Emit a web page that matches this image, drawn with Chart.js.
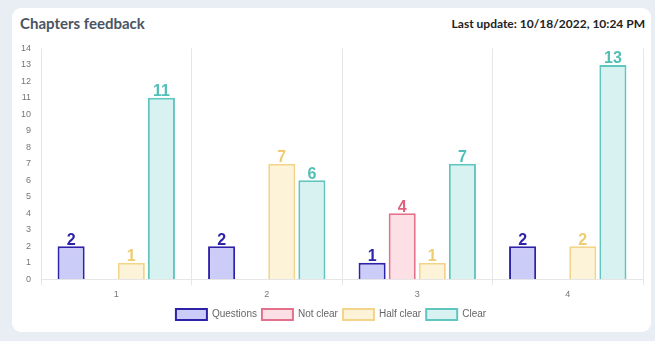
<!DOCTYPE html>
<html>
<head>
<meta charset="utf-8">
<script src="https://cdn.jsdelivr.net/npm/chart.js@4.4.0/dist/chart.umd.min.js"></script>
<style>
  html, body { margin: 0; padding: 0; width: 655px; height: 341px; background: #e9eef4; overflow: hidden; }
  #card { position: absolute; left: 12px; top: 8px; width: 639px; height: 324px; background: #fff; border-radius: 9px; }
  #title { position: absolute; left: 20px; top: 14px; font-family: Lato, sans-serif; font-weight: bold; font-size: 15px; color: #4a5463; }
  #updated { position: absolute; right: 10px; top: 16px; font-family: Lato, sans-serif; font-weight: bold; font-size: 12px; color: #222; }
  #wrap { position: absolute; left: 19px; top: 41px; width: 628px; height: 289px; }
</style>
</head>
<body>
<div id="card"></div>
<div id="title">Chapters feedback</div>
<div id="updated">Last update: 10/18/2022, 10:24 PM</div>
<div id="wrap"><canvas id="c" width="628" height="289"></canvas></div>
<script>
const categories = ["1", "2", "3", "4"];
const questions = [2, 2, 1, 2];
const notClear = [0, 0, 4, 0];
const halfClear = [1, 7, 1, 2];
const clear = [11, 6, 7, 13];
const yTicks = [0,1,2,3,4,5,6,7,8,9,10,11,12,13,14];

const valueLabels = {
  id: 'valueLabels',
  afterDatasetsDraw(chart) {
    const ctx = chart.ctx;
    ctx.save();
    ctx.font = 'bold 16px "Liberation Sans", Arial, sans-serif';
    ctx.textAlign = 'center';
    ctx.textBaseline = 'bottom';
    chart.data.datasets.forEach((ds, i) => {
      const meta = chart.getDatasetMeta(i);
      if (meta.hidden) return;
      meta.data.forEach((bar, j) => {
        const v = ds.data[j];
        if (!v) return;
        ctx.fillStyle = ds.labelColor;
        ctx.fillText(String(v), bar.x, bar.y + 2);
      });
    });
    ctx.restore();
  }
};

new Chart(document.getElementById('c'), {
  type: 'bar',
  data: {
    labels: categories,
    datasets: [
      { label: 'Questions', data: questions, backgroundColor: '#ccccf9', borderColor: '#2e22a8', borderWidth: 2, labelColor: '#2e22a8' },
      { label: 'Not clear', data: notClear, backgroundColor: '#fde0e6', borderColor: '#e3718c', borderWidth: 2, labelColor: '#e0607e' },
      { label: 'Half clear', data: halfClear, backgroundColor: '#fdf3d8', borderColor: '#f2d58a', borderWidth: 2, labelColor: '#f0cc70' },
      { label: 'Clear', data: clear, backgroundColor: '#d8f1f1', borderColor: '#62c6c0', borderWidth: 2, labelColor: '#4fbfb7' }
    ]
  },
  options: {
    responsive: false,
    animation: false,
    layout: { padding: { top: 0, right: 4, left: 0, bottom: 0 } },
    scales: {
      x: {
        grid: { display: true, color: '#e6e6e6', tickLength: 6 },
        border: { color: '#e6e6e6' },
        ticks: { color: '#777', font: { size: 9, family: '"Liberation Sans", Arial, sans-serif' }, padding: 4 }
      },
      y: {
        min: 0, max: 14,
        afterBuildTicks(axis) { axis.ticks = yTicks.map(v => ({ value: v })); },
        grid: { display: false },
        border: { display: false },
        ticks: { color: '#777', font: { size: 9, family: '"Liberation Sans", Arial, sans-serif' }, padding: 2 }
      }
    },
    plugins: {
      legend: {
        position: 'bottom',
        labels: { boxWidth: 31, boxHeight: 11, color: '#666', font: { size: 10, family: '"Liberation Sans", Arial, sans-serif' }, padding: 5 }
      },
      tooltip: { enabled: false }
    }
  },
  plugins: [valueLabels]
});
</script>
</body>
</html>
